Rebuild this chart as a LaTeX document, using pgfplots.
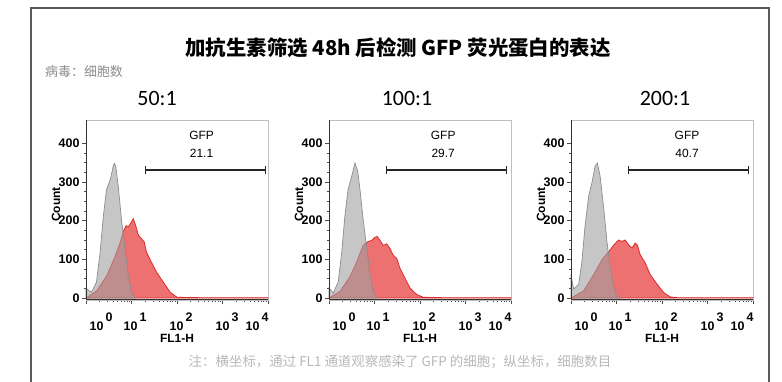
\documentclass[border=0pt]{standalone}
\usepackage{fontspec}
\usepackage{pgfplots}
\usepackage{pgfplotstable}
\pgfplotsset{compat=1.18}
\setmainfont{Liberation Sans}
\newfontfamily\cjk{Noto Sans CJK SC}
\newfontfamily\carlito{Carlito}
\definecolor{histred}{RGB}{236,98,98}
\definecolor{histredline}{RGB}{222,40,40}
\definecolor{histgray}{RGB}{160,160,160}
\definecolor{histgrayline}{RGB}{140,140,140}

\pgfplotstableread{
x y
0.00 25
0.12 15
0.23 41
0.31 118
0.38 210
0.45 280
0.53 305
0.58 330
0.60 343
0.63 348
0.66 335
0.71 287
0.78 203
0.86 126
0.93 56
1.00 15
1.08 0
}\grayA
\pgfplotstableread{
x y
0.00 0
0.23 18
0.45 56
0.64 108
0.75 143
0.82 172
0.88 187
0.93 184
0.98 193
1.04 205
1.09 188
1.15 163
1.22 153
1.28 145
1.33 118
1.44 92
1.55 67
1.70 41
1.85 15
2.00 2
2.50 1
4.00 1
}\redA
\pgfplotstableread{
x y
0.00 26
0.095 13
0.205 43
0.28 119
0.35 213
0.42 281
0.50 315
0.57 349
0.63 328
0.68 281
0.75 204
0.83 128
0.90 60
0.97 17
1.05 0
}\grayB
\pgfplotstableread{
x y
0.00 0
0.24 17
0.46 55
0.61 94
0.75 136
0.84 145
0.94 149
1.01 157
1.06 159
1.12 149
1.19 136
1.27 140
1.34 128
1.41 111
1.49 102
1.56 77
1.67 51
1.78 26
1.93 9
2.07 2
2.50 1
4.00 1
}\redB
\pgfplotstableread{
x y
0.00 61
0.03 40
0.06 23
0.17 36
0.24 95
0.31 188
0.39 264
0.46 298
0.53 341
0.58 349
0.64 315
0.72 231
0.79 146
0.86 78
0.94 27
1.01 3
1.08 0
}\grayC
\pgfplotstableread{
x y
0.00 0
0.28 19
0.50 61
0.68 99
0.83 120
0.94 137
1.01 146
1.05 150
1.12 146
1.19 150
1.27 137
1.34 129
1.41 142
1.46 137
1.52 112
1.63 91
1.74 61
1.89 36
2.04 14
2.18 3
2.33 1
4.00 1
}\redC

\pgfplotsset{panelstyle/.style={
  anchor=south west, scale only axis, width=182bp, height=180bp,
  xmin=0, xmax=4, ymin=-5, ymax=460,
  axis line style={gray!50, line width=0.8bp},
  tick align=outside, xtick pos=bottom, ytick pos=left,
  ytick={0,100,200,300,400}, minor y tick num=3,
  major tick length=4bp, minor tick length=2bp,
  tick style={black!70, line width=0.7bp},
  /pgf/number format/assume math mode=true,
  yticklabel style={font=\bfseries\fontsize{12.5}{12.5}\selectfont, xshift=1bp},
  xticklabel style={font=\bfseries\fontsize{12.5}{12.5}\selectfont, yshift=-9bp},
  xtick={0,1,2,3,4}, xticklabels={},
  minor xtick={0.301,0.477,0.602,0.699,0.778,0.845,0.903,0.954,
               1.301,1.477,1.602,1.699,1.778,1.845,1.903,1.954,
               2.301,2.477,2.602,2.699,2.778,2.845,2.903,2.954,
               3.301,3.477,3.602,3.699,3.778,3.845,3.903,3.954},
  extra x ticks={0.33,1.08,2.09,3.10,3.76},
  extra x tick labels={\xl{0},\xl{1},\xl{2},\xl{3},\xl{4}},
  extra x tick style={major tick length=0bp},
  ylabel={Count},
  ylabel style={font=\bfseries\fontsize{12}{12}\selectfont, at={(axis description cs:-0.165,0.53)}, anchor=center, rotate=0},
  xlabel={FL1-H},
  xlabel style={font=\bfseries\fontsize{12}{12}\selectfont, at={(axis description cs:0.5,-0.215)}, anchor=center},
  clip=false,
}}
\newcommand{\xl}[1]{10\,\raisebox{0.75em}{#1}}
\newcommand{\gfpfont}{\fontsize{12}{12}\selectfont}
\newcommand{\panel}[7]{%
\begin{axis}[panelstyle, at={(#1bp,82bp)}]
\addplot[draw=histredline, line width=0.8bp, fill=histred, fill opacity=0.9] table {#3} \closedcycle;
\addplot[draw=histgrayline, line width=0.7bp, fill=histgray, fill opacity=0.6] table {#2} \closedcycle;
\draw[black!80, line width=1bp] (rel axis cs:0,0) -- (rel axis cs:0,1);
\draw[black!80, line width=1bp] (rel axis cs:0,0) -- (rel axis cs:1,0);
\addplot[black!85, line width=1.8bp, mark=|, mark size=4bp, mark options={solid, line width=1.3bp}] coordinates {(#4,330) (#5,330)};
\node[font=\gfpfont] at (axis cs:#7,421) {GFP};
\node[font=\gfpfont] at (axis cs:#7,374) {#6};
\end{axis}}

\begin{document}
\begin{tikzpicture}
\path[use as bounding box] (0,0) rectangle (782bp,382bp);
\draw[line width=1.5bp, black!65] (31bp,0) -- (31bp,374bp) -- (769bp,374bp) -- (769bp,0);
\node[font=\cjk\bfseries\fontsize{20.5}{20.5}\selectfont] at (398bp,334bp) {加抗生素筛选 48h 后检测 GFP 荧光蛋白的表达};
\node[anchor=west, inner sep=0pt, font=\cjk\fontsize{13}{13}\selectfont, text=black!45] at (45bp,310bp) {病毒：细胞数};
\node[font=\carlito\fontsize{22}{22}\selectfont] at (157bp,284bp) {50:1};
\node[font=\carlito\fontsize{22}{22}\selectfont] at (407bp,284bp) {100:1};
\node[font=\carlito\fontsize{22}{22}\selectfont] at (665bp,284bp) {200:1};
\panel{86}{\grayA}{\redA}{1.30}{3.95}{21.1}{2.54}
\panel{329}{\grayB}{\redB}{1.27}{3.90}{29.7}{2.51}
\panel{571}{\grayC}{\redC}{1.27}{3.90}{40.7}{2.55}
\node[font=\cjk\fontsize{13.5}{13.5}\selectfont, text=black!28] at (400bp,20bp) {注：横坐标，通过 FL1 通道观察感染了 GFP 的细胞；纵坐标，细胞数目};
\end{tikzpicture}
\end{document}
